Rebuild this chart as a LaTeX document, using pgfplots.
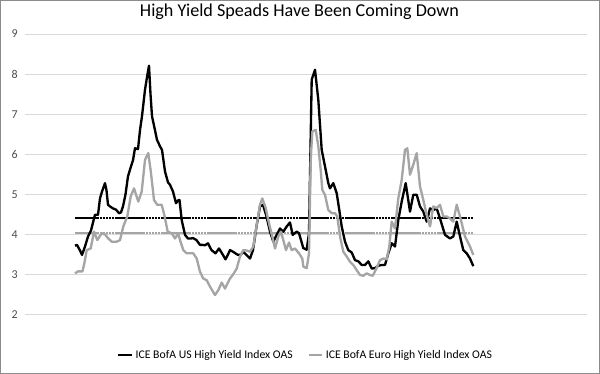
\documentclass[border=0pt]{standalone}
\usepackage{pgfplots}
\pgfplotsset{compat=1.18}
\usepackage{fontspec}
\setmainfont{Carlito}
\definecolor{usblack}{HTML}{000000}
\definecolor{eugray}{HTML}{A5A5A5}
\definecolor{gridc}{HTML}{D9D9D9}
\definecolor{framec}{HTML}{8C8C8C}
\begin{document}
\begin{tikzpicture}
\path[use as bounding box] (0pt,0pt) rectangle (450pt,280.5pt);
\draw[framec, line width=0.75pt] (0.6pt,0.6pt) rectangle (449.4pt,279.9pt);
\node[font=\fontsize{13.6}{16}\selectfont] at (224.6pt,271.3pt) {High Yield Speads Have Been Coming Down};
\begin{axis}[
  at={(18.75pt,44.5pt)}, anchor=south west,
  scale only axis, width=421.5pt, height=210.5pt,
  xmin=25, xmax=587, ymin=2, ymax=9,
  axis line style={draw=none},
  xtick=\empty, ytick={2,3,...,9},
  ymajorgrids, grid style={gridc, line width=0.75pt},
  major tick length=0pt,
  tick label style={font=\fontsize{9}{11}\selectfont, text=black!70},
  yticklabel style={xshift=-2pt},
  /pgf/number format/assume math mode=true,
  legend style={at={(0.5,-0.1436)}, anchor=center, draw=none, fill=none,
    font=\fontsize{8.8}{11}\selectfont,
    /tikz/every even column/.append style={column sep=9pt},
    nodes={inner sep=2pt}},
  legend columns=2,
  legend image code/.code={\draw[#1] (0pt,0pt) -- (10pt,0pt);},
]
\addplot[usblack, line width=1.7pt, dash pattern=on 2pt off 0.3pt, forget plot] coordinates {(75,4.405) (473,4.405)};
\addplot[eugray, line width=1.7pt, dash pattern=on 2pt off 0.3pt, forget plot] coordinates {(75,4.03) (473,4.03)};
\addplot[usblack, line width=1.75pt, line join=round] coordinates {
(75,3.72) (77,3.74) (80,3.6) (82,3.49) (85,3.7) (88,3.95) (91,4.1) (93,4.3) (95,4.49)
(98,4.49) (100,4.9) (102,5.07) (105,5.28) (106.5,5.1) (108,4.74) (110,4.7) (113,4.65)
(116,4.62) (119,4.53) (121,4.55) (123,4.7) (125.5,5.0) (128,5.45) (131,5.7) (133,5.85)
(135,6.15) (138,6.13) (140,6.6) (142,6.95) (145,7.61) (147.5,8.0) (149,8.21) (150.5,7.5)
(152,6.95) (155,6.6) (157,6.36) (160,6.2) (162,6.11) (165,5.57) (168,5.3) (170,5.24)
(173,5.07) (176,4.78) (178,4.85) (179.5,4.86) (181.7,4.36) (185,3.99) (188,3.9) (191,3.9)
(193,3.91) (196.5,3.86) (200,3.74) (202.5,3.74) (205,3.73) (208,3.78) (211.5,3.61)
(215.5,3.53) (219,3.65) (222,3.53) (225.5,3.38) (228,3.5) (230,3.61) (233,3.57) (236,3.52)
(238,3.49) (241,3.5) (243,3.57) (246.5,3.49) (250,3.4) (253,3.61) (256.5,4.2) (260,4.7)
(263,4.74) (266.5,4.45) (270,4.07) (273.3,3.82) (276.7,3.99) (280,4.15) (283.3,4.07)
(286.7,4.2) (290,4.3) (292.7,3.99) (296.7,4.07) (299,4.03) (301,3.86) (303.3,3.66)
(306.7,3.62) (309,4.03) (311.7,7.86) (315,8.11) (318.3,7.36) (321.7,6.11) (325,5.7)
(328.3,5.28) (330,5.15) (333.3,5.28) (336.7,5.03) (339.3,4.61) (341.7,4.2) (345,3.82)
(348.3,3.61) (351.7,3.55) (355,3.36) (358.3,3.33) (361.7,3.24) (365,3.24) (368.3,3.33)
(371.7,3.15) (375,3.16) (378.3,3.22) (381.7,3.24) (385,3.24) (388.3,3.53) (391.7,3.78)
(395,3.7) (398.3,4.36) (401.7,4.82) (405.7,5.28) (410,4.57) (413.3,4.99) (416.7,4.99)
(420,4.7) (423.3,4.57) (426.7,4.32) (430,4.65) (433.3,4.61) (436.7,4.65) (440,4.4)
(445,3.99) (450,3.9) (453.3,3.95) (456.7,4.32) (460,3.95) (463.3,3.61) (466.7,3.53)
(470,3.4) (473.3,3.21)
};
\addplot[eugray, line width=1.75pt, line join=round] coordinates {
(75,3.03) (78,3.08) (82.5,3.08) (84.5,3.3) (86.7,3.61) (90.7,3.65) (94,4.07) (97.3,3.86)
(101.7,4.03) (105,4.0) (108.3,3.9) (111.7,3.82) (116.7,3.82) (120,3.86) (123.3,4.2)
(127.3,4.45) (130.7,4.95) (134,5.15) (138.3,4.82) (141.7,5.07) (145,5.86) (148.3,6.03)
(151,5.53) (154,4.86) (157.3,4.74) (161.7,4.74) (164.3,4.49) (167.7,4.07) (171.7,4.03)
(175,3.9) (178.3,4.03) (180,3.86) (183.3,3.61) (186.7,3.53) (193.3,3.53) (196.7,3.4)
(200,3.07) (203.3,2.9) (206.7,2.86) (210,2.7) (215,2.49) (218.3,2.61) (221.7,2.8)
(225,2.65) (230,2.9) (233.3,3.01) (236.7,3.15) (240,3.45) (243.3,3.61) (246.7,3.6)
(250,3.57) (253.3,3.7) (256.7,4.24) (260,4.74) (262.3,4.9) (265.7,4.66) (269,4.28)
(272.3,3.95) (275,3.65) (278.3,3.95) (281,4.07) (283.3,3.86) (286,3.61) (289,3.8)
(291.7,3.61) (295,3.65) (299,3.53) (302.3,3.4) (303.3,3.2) (306.7,3.16) (309,3.53)
(310.7,5.86) (312.3,6.57) (315.7,6.61) (318.3,6.2) (320.7,5.61) (322.3,5.11) (325,4.99)
(328.3,4.61) (331.7,4.53) (335,4.53) (337.3,4.45) (340,3.95) (343.3,3.57) (346.7,3.45)
(350,3.32) (353.3,3.24) (356.7,3.11) (360,2.99) (363.3,2.97) (366.7,3.03) (370,2.99)
(372.7,2.97) (376,3.13) (380,3.36) (383.3,3.4) (386.7,3.38) (389.3,3.7) (391.7,4.32)
(395,4.15) (398.3,4.9) (401.7,5.36) (405,6.11) (407.3,6.15) (410,5.49) (413.3,5.74)
(416.7,6.03) (420,5.2) (423.3,4.86) (426.7,4.49) (430,4.2) (433.3,4.7) (436.7,4.66)
(440,4.74) (443.3,4.45) (446.7,4.45) (450,4.4) (453.3,4.32) (456.7,4.74) (460,4.45)
(465,3.95) (470,3.7) (473.3,3.49)
};
\legend{ICE BofA US High Yield Index OAS, ICE BofA Euro High Yield Index OAS}
\end{axis}
\end{tikzpicture}
\end{document}
